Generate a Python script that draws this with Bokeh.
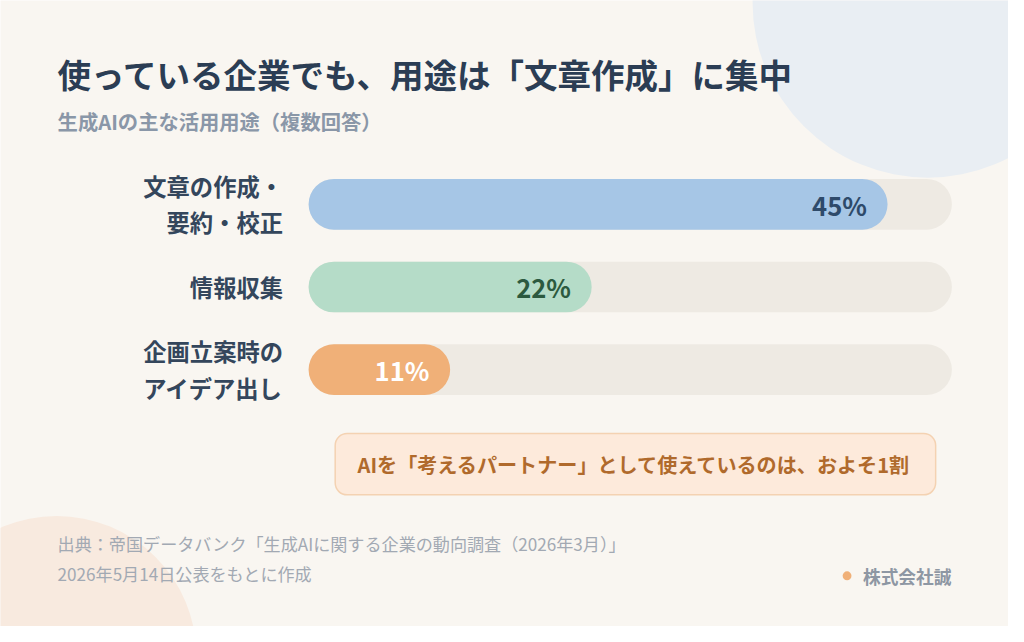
from bokeh.plotting import figure
from bokeh.models import Range1d, Label
from bokeh.core.properties import value
from bokeh.embed import file_html
from bokeh.resources import INLINE

# --- data ---
categories = ["文章の作成・\n要約・校正", "情報収集", "企画立案時の\nアイデア出し"]
shares = [45, 22, 11]
share_labels = ["45%", "22%", "11%"]
track_max = 50  # the grey track stands for 50%

title = "使っている企業でも、用途は「文章作成」に集中"
subtitle = "生成AIの主な活用用途（複数回答）"
callout = "AIを「考えるパートナー」として使えているのは、およそ1割"
source_lines = [
    "出典：帝国データバンク「生成AIに関する企業の動向調査（2026年3月）」",
    "2026年5月14日公表をもとに作成",
]
brand = "株式会社誠"

# --- style ---
FONT = "Noto Sans CJK JP"
BG = "#f9f6f1"
bar_colors = ["#a6c6e6", "#b5dcc8", "#f0b078"]
value_colors = ["#2e4a6a", "#2c5a3f", "#ffffff"]

W, H = 1008, 626
S = W / 1024  # design was laid out on a 1024x642 card


def px(n):
    return f"{n * S:.1f}px"


# design pixels -> data coords (x in percent, y in row index)
X0, PX_PER_PCT = 313, 13.07
Y0, ROW = 209, 84.8


def dx(x):
    return (x - X0) / PX_PER_PCT


def dy(y):
    return (y - Y0) / ROW


p = figure(
    width=W, height=H,
    x_range=Range1d(dx(0), dx(1024)),
    y_range=Range1d(dy(642), dy(0)),
    output_backend="svg", toolbar_location=None, min_border=0,
)
p.axis.visible = False
p.grid.visible = False
p.outline_line_color = None
p.background_fill_color = BG
p.border_fill_color = BG

# decorative circles
p.scatter(x=[dx(942)], y=[dy(2)], size=356 * S, fill_color="#e9eef3", line_color=None)
p.scatter(x=[dx(57)], y=[dy(672)], size=284 * S, fill_color="#f8eadf", line_color=None)

rows = list(range(len(categories)))
bar_h = 52 / ROW

# tracks + bars
p.hbar(y=rows, left=0, right=track_max, height=bar_h, fill_color="#eeeae3",
       line_color=None, border_radius=26)
p.hbar(y=rows, left=0, right=shares, height=bar_h, fill_color=bar_colors,
       line_color=None, border_radius=26)

p.text(x=shares, y=rows, text=share_labels, x_offset=-21 * S, text_align="right",
       text_baseline="middle", text_font=value(FONT), text_font_style="bold",
       text_font_size=px(26), text_color=value_colors)

p.text(x=[dx(287)] * len(rows), y=rows, text=categories, text_align="right",
       text_baseline="middle", text_line_height=1.07, text_font=value(FONT),
       text_font_style="bold", text_font_size=px(23.7), text_color="#34465c")


def label(x, y, text, size, color, bold=False, align="left"):
    p.add_layout(Label(
        x=dx(x), y=dy(y), text=text, text_align=align, text_baseline="middle",
        text_font=FONT, text_font_size=px(size), text_color=color,
        text_font_style="bold" if bold else "normal",
    ))


label(58, 75, title, 34, "#2b3d54", bold=True)
label(58, 124, subtitle, 20.6, "#8a97a8", bold=True)

# callout box
p.quad(left=dx(340), right=dx(950), top=dy(444), bottom=dy(507),
       fill_color="#fdeadb", line_color="#f4d2b2", line_width=1.5, border_radius=12)
label(644, 476, callout, 20.4, "#b06a2c", bold=True, align="center")

# footer
label(58, 557, source_lines[0], 17.4, "#a2a9b3")
label(58, 588, source_lines[1], 17.4, "#a2a9b3")
p.scatter(x=[dx(860)], y=[dy(590)], size=9 * S, fill_color="#f0b078", line_color=None)
label(966, 590, brand, 18, "#8e97a3", bold=True, align="right")

open("out.html", "w").write(file_html(p, INLINE))
